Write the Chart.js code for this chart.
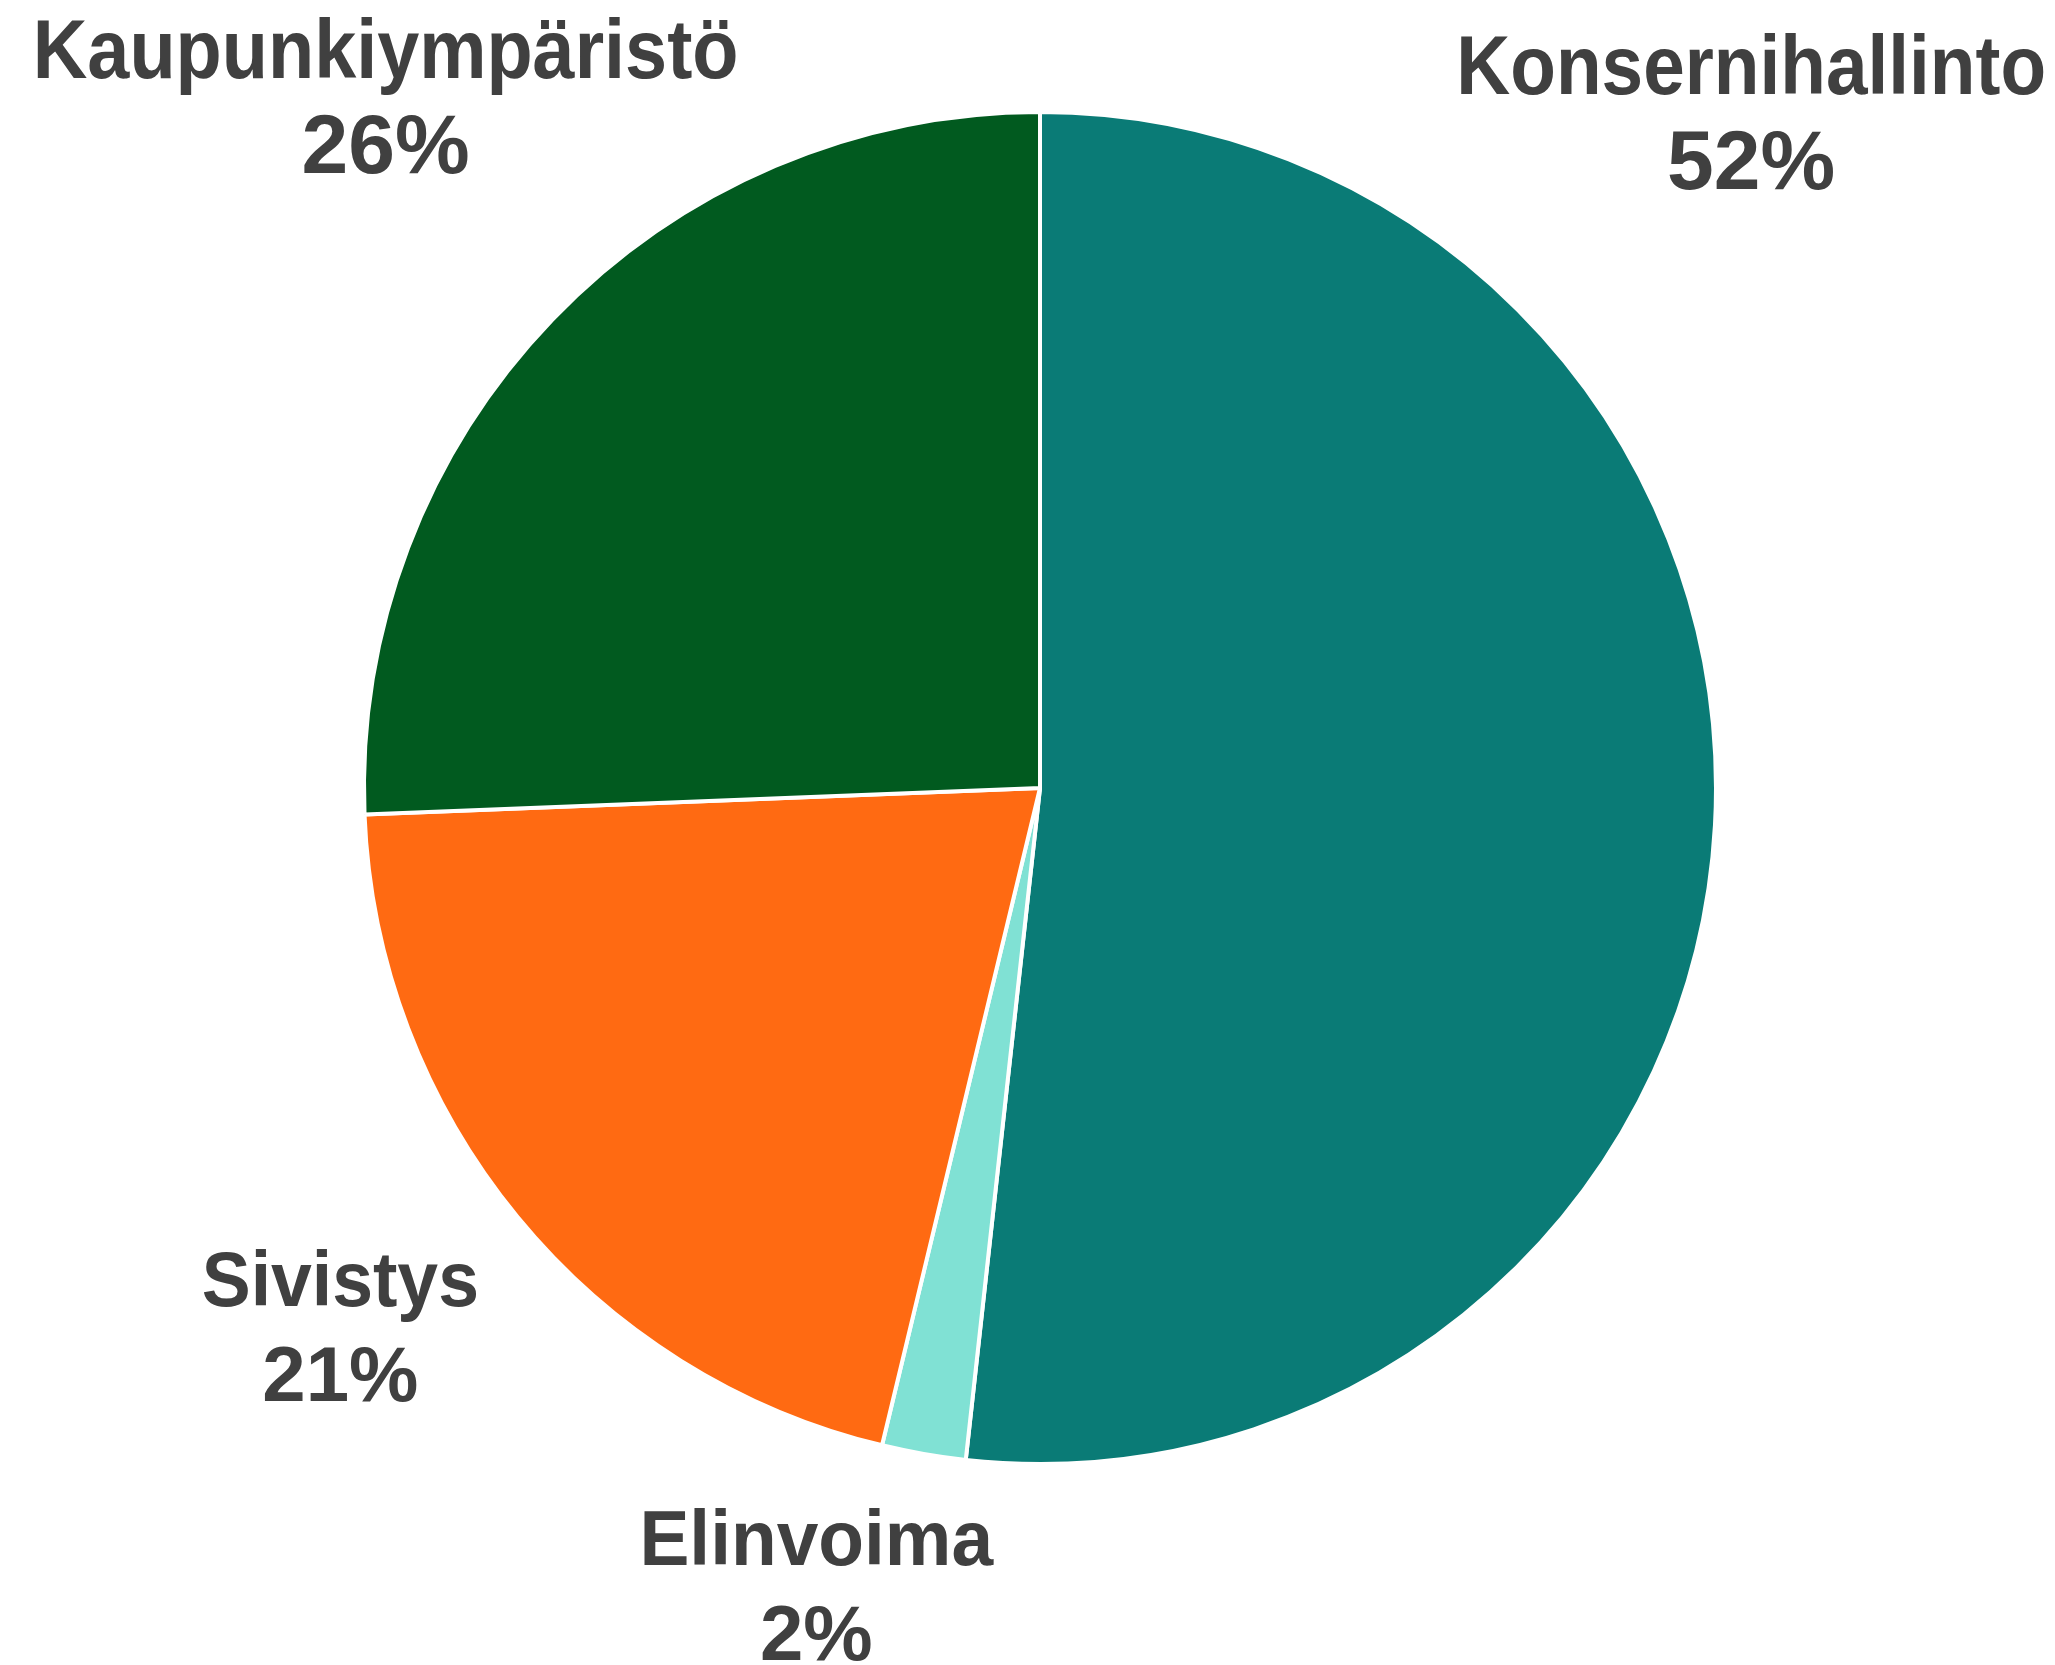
<!DOCTYPE html>
<html>
<head>
<meta charset="utf-8">
<script src="https://cdn.jsdelivr.net/npm/chart.js@4.4.1/dist/chart.umd.min.js"></script>
<style>
  html, body { margin: 0; padding: 0; background: #ffffff; }
  #wrap { width: 2055px; height: 1665px; }
</style>
</head>
<body>
<div id="wrap"><canvas id="chart" width="2055" height="1665"></canvas></div>
<script>
// Data
const categories = ['Konsernihallinto', 'Elinvoima', 'Sivistys', 'Kaupunkiympäristö'];
const shares = [51.7, 2.0, 20.6, 25.6];
const sliceColors = ['#0A7B76', '#80E1D4', '#FF6A12', '#015A1F'];

// Label placement relative to pie centre, in radii (first line baseline)
const labelAnchors = [
    [1.052, -1.026],
    [-0.331, 1.150],
    [-1.035, 0.767],
    [-0.968, -1.051]
];
// horizontal squeeze of the category line (the original uses a narrower face)
const nameStretch = [0.89, 0.96, 0.94, 0.90];
const labelSizes = [84, 78, 78, 84];

const total = shares.reduce((a, b) => a + b, 0);

// Draw category name + percent outside each slice
const outsideLabels = {
    id: 'outsideLabels',
    afterDraw(chart) {
        const ctx = chart.ctx;
        const arcs = chart.getDatasetMeta(0).data;
        ctx.save();
        ctx.fillStyle = '#404040';
        ctx.textAlign = 'center';
        ctx.textBaseline = 'alphabetic';
        arcs.forEach((arc, i) => {
            const r = arc.outerRadius;
            const x = arc.x + labelAnchors[i][0] * r;
            const y = arc.y + labelAnchors[i][1] * r;
            const pct = Math.round(shares[i] / total * 100) + '%';
            ctx.font = 'bold ' + labelSizes[i] + 'px "Liberation Sans", Arial, sans-serif';
            ctx.save();
            ctx.translate(x, y);
            ctx.scale(nameStretch[i], 1);
            ctx.fillText(categories[i], 0, 0);
            ctx.restore();
            ctx.fillText(pct, x, y + 95);
        });
        ctx.restore();
    }
};

const ctx = document.getElementById('chart').getContext('2d');
new Chart(ctx, {
    type: 'pie',
    data: {
        labels: categories,
        datasets: [{
            data: shares,
            backgroundColor: sliceColors,
            borderColor: '#ffffff',
            borderWidth: 4,
            hoverOffset: 0,
            offset: 0
        }]
    },
    options: {
        responsive: false,
        animation: false,
        layout: {
            padding: { top: 110, bottom: 199, left: 25, right: 0 }
        },
        plugins: {
            legend: { display: false },
            tooltip: { enabled: false }
        }
    },
    plugins: [outsideLabels]
});
</script>
</body>
</html>
